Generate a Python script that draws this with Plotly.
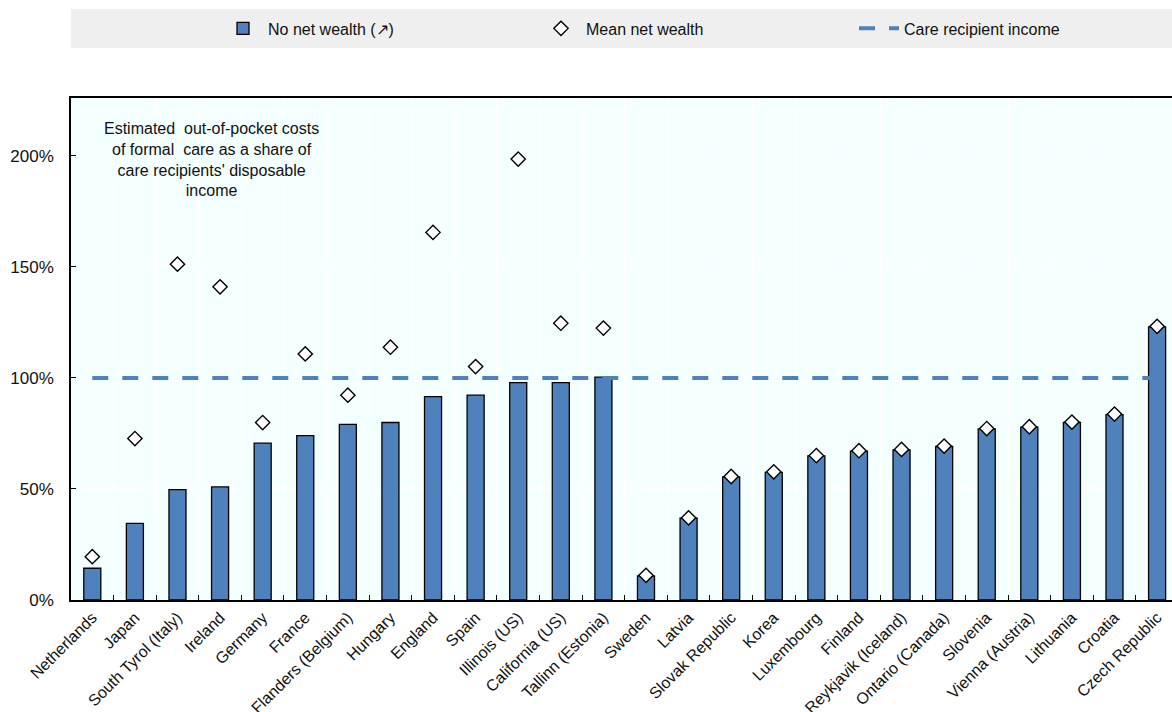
import plotly.graph_objects as go

categories = ["Netherlands", "Japan", "South Tyrol (Italy)", "Ireland", "Germany", "France",
              "Flanders (Belgium)", "Hungary", "England", "Spain", "Illinois (US)", "California (US)",
              "Tallinn (Estonia)", "Sweden", "Latvia", "Slovak Republic", "Korea", "Luxembourg",
              "Finland", "Reykjavik (Iceland)", "Ontario (Canada)", "Slovenia", "Vienna (Austria)",
              "Lithuania", "Croatia", "Czech Republic"]
no_net_wealth = [14.3, 34.5, 49.7, 50.9, 70.6, 74.0, 79.1, 79.9, 91.6, 92.2, 97.9, 97.9,
                 100.3, 10.8, 36.8, 55.4, 57.5, 64.9, 67.0, 67.6, 69.1, 77.0, 77.8, 79.9, 83.5, 123.0]
mean_net_wealth = [19.5, 72.7, 151.2, 141.0, 79.9, 110.8, 92.2, 113.8, 165.5, 105.1, 198.5, 124.6,
                   122.4, 11.1, 37.0, 55.6, 57.7, 65.0, 67.2, 67.8, 69.3, 77.2, 78.0, 80.1, 83.7, 123.2]
care_income = [100] * len(categories)
y_ticks = [0, 50, 100, 150, 200]
y_tick_labels = ["0%", "50%", "100%", "150%", "200%"]

FONT = "Liberation Sans Narrow, Arial Narrow, Liberation Sans, Arial, sans-serif"
BLUE = "#4F81BD"

fig = go.Figure()
fig.add_trace(go.Bar(
    x=categories, y=no_net_wealth, name="No net wealth (\u2197)",
    marker=dict(color=BLUE, line=dict(color="black", width=1.3)), width=0.4,
))
fig.add_trace(go.Scatter(
    x=categories, y=mean_net_wealth, name="Mean net wealth", mode="markers",
    marker=dict(symbol="diamond", size=11, color="white", line=dict(color="black", width=1.4)),
))
fig.add_trace(go.Scatter(
    x=categories, y=care_income, name="Care recipient income", mode="lines",
    line=dict(color=BLUE, width=4, dash="16px,14px"),
))

# grey legend band (pixels y 10..49 of 712; plot area 98..600)
fig.add_shape(type="rect", xref="paper", yref="paper", x0=0, x1=1.01, y0=1.0996, y1=1.1773,
              fillcolor="#EFEFEF", line=dict(width=0), layer="below")

fig.add_annotation(
    xref="paper", yref="y", x=0.128, y=217, xanchor="center", yanchor="top",
    text="Estimated  out-of-pocket costs<br>of formal  care as a share of<br>care recipients' disposable<br>income",
    showarrow=False, align="center", font=dict(family=FONT, size=16, color="#111"),
)

fig.update_layout(
    width=1172, height=712,
    margin=dict(l=71, r=0, t=98, b=112),
    paper_bgcolor="white", plot_bgcolor="#F4FFFF",
    font=dict(family=FONT, size=16, color="#111"),
    bargap=0.6,
    showlegend=True,
    legend=dict(orientation="h", x=1.0, xanchor="right", y=1.1385, yanchor="middle",
                bgcolor="rgba(0,0,0,0)", font=dict(family=FONT, size=16, color="#111"),
                entrywidth=263, itemwidth=40, traceorder="normal"),
    xaxis=dict(
        type="category", range=[-0.5, 25.35], tickangle=-45, automargin=False,
        showline=True, linecolor="black", linewidth=2, mirror=True,
        ticks="inside", ticklen=5, tickcolor="black", tickwidth=1.2,
        tickson="boundaries", showgrid=True, gridcolor="white", gridwidth=1.2,
        tickfont=dict(family=FONT, size=16, color="#111"),
    ),
    yaxis=dict(
        range=[0, 226], tickvals=y_ticks, ticktext=y_tick_labels, automargin=False,
        showline=True, linecolor="black", linewidth=1.5, mirror=True,
        ticks="inside", ticklen=5, tickcolor="black", ticklabelstandoff=12,
        showgrid=True, gridcolor="white", gridwidth=1.2, zeroline=False,
        tickfont=dict(family=FONT, size=17, color="#111"),
    ),
)

fig.write_html("out.html", config={"displayModeBar": False},
               post_script="document.body.style.margin='0';")
